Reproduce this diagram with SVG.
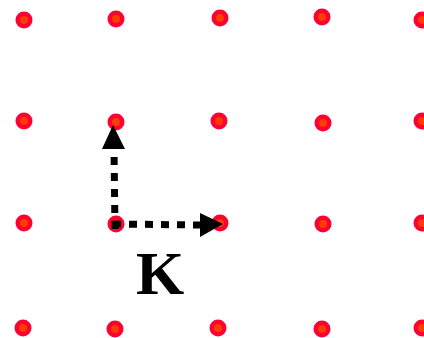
<svg xmlns="http://www.w3.org/2000/svg" width="424" height="338" viewBox="0 0 424 338">
<style>
.o{fill:#ff0033}
.i{fill:#ff3d00}
.c{stroke:#000;stroke-width:7;stroke-dasharray:8 8;fill:none}
.k{font-family:"Liberation Serif",serif;font-weight:bold;font-size:62px;fill:#000}
</style>
<defs>
<g id="dot"><circle r="8.5" class="o"/><circle r="4" class="i"/></g>
</defs>
<g id="lattice">
<use href="#dot" x="24" y="20"/><use href="#dot" x="116" y="19"/><use href="#dot" x="220" y="18"/><use href="#dot" x="322" y="17"/><use href="#dot" x="422" y="20"/>
<use href="#dot" x="24" y="121"/><use href="#dot" x="116" y="122"/><use href="#dot" x="219" y="121"/><use href="#dot" x="323" y="123"/><use href="#dot" x="422" y="121"/>
<use href="#dot" x="24" y="223"/><use href="#dot" x="116" y="224"/><use href="#dot" x="220" y="223"/><use href="#dot" x="323" y="224"/><use href="#dot" x="422" y="223"/>
<use href="#dot" x="23" y="328"/><use href="#dot" x="115" y="329"/><use href="#dot" x="218" y="328"/><use href="#dot" x="322" y="329"/><use href="#dot" x="422" y="328"/>
</g>
<g id="connectors">
<path class="c" d="M115 229 L114 149"/>
<polygon points="113,125 102,149 125,149" fill="#000"/>
<path class="c" d="M113 224 L200 225"/>
<polygon points="223,224 200,213 200,237" fill="#000"/>
</g>
<g id="label"><text class="k" x="160" y="294" text-anchor="middle">K</text></g>
</svg>
